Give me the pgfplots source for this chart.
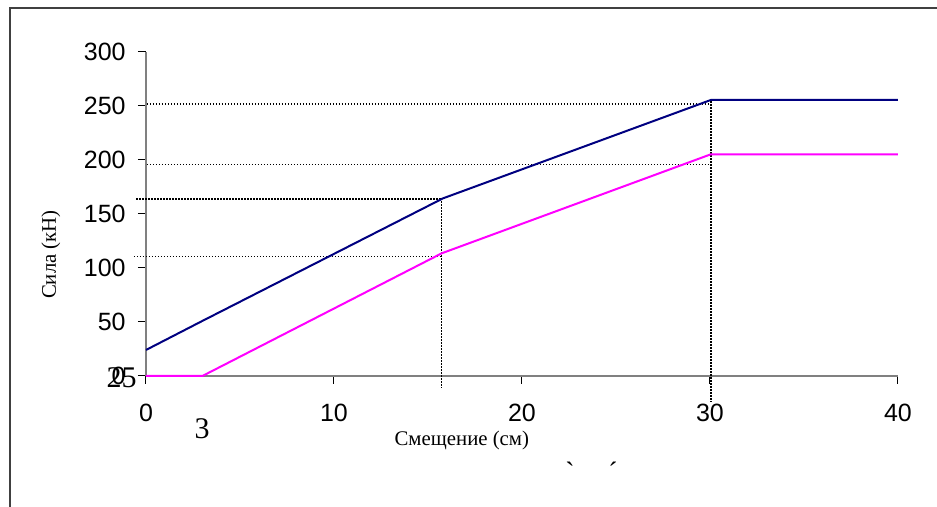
\documentclass[border=0pt]{standalone}
\usepackage{pgfplots}
\pgfplotsset{compat=1.18}
\usepackage{fontspec}
\setmainfont{Liberation Serif}
\newfontfamily\arial{Liberation Sans}
\definecolor{navyline}{HTML}{000080}
\definecolor{magline}{HTML}{FF00FF}
\definecolor{framegray}{HTML}{404040}
\definecolor{axgray}{HTML}{808080}
\begin{document}
\begin{tikzpicture}
\useasboundingbox (-73pt,-65.5pt) rectangle (395.5pt,188pt);
\begin{axis}[
  at={(0,0)}, anchor=south west,
  scale only axis, width=376pt, height=162pt,
  xmin=0, xmax=40, ymin=0, ymax=300,
  axis lines=left,
  axis line style={-, draw=axgray, line width=0.75pt},
  xtick={0,10,20,30,40}, ytick={0,50,100,150,200,250,300},
  tick align=outside, major tick length=4pt,
  tick style={black, line width=0.5pt},
  /pgf/number format/assume math mode=true,
  ticklabel style={font=\arial\fontsize{12.5}{14}\selectfont},
  xticklabel style={anchor=base, inner sep=0pt, yshift=-19pt},
  yticklabel style={anchor=east, inner sep=0pt, xshift=-6pt},
  xlabel={Смещение (см)},
  ylabel={Сила (кН)},
  label style={font=\fontsize{10.4}{12}\selectfont},
  xlabel style={at={(axis description cs:0.42,-0.213)}, anchor=base, inner sep=0pt},
  ylabel style={at={(axis description cs:-0.12,0.375)}, anchor=base, inner sep=0pt},
  clip=false,
]
% dotted guide lines
\addplot[black, line width=0.75pt, dash pattern=on 0.75pt off 0.75pt] coordinates {(-0.53,163.9) (15.73,163.9)};
\addplot[black, line width=0.75pt, dash pattern=on 0.75pt off 0.75pt] coordinates {(-0.64,110.5) (15.73,110.5)};
\addplot[black, line width=0.75pt, dash pattern=on 0.75pt off 0.75pt] coordinates {(15.73,164.8) (15.73,-11.1)};
\addplot[black, line width=0.75pt, dash pattern=on 0.75pt off 0.75pt] coordinates {(0.05,251.9) (30.05,251.9)};
\addplot[black, line width=0.75pt, dash pattern=on 0.75pt off 0.75pt] coordinates {(0.05,196.0) (30.1,196.0)};
\addplot[black, line width=0.75pt, dash pattern=on 0.75pt off 0.75pt] coordinates {(30.05,254.6) (30.05,-24)};
% data
\addplot[navyline, line width=1pt] coordinates {(0,24.1) (3,51) (15.8,164.5) (30.05,255.6) (40,255.6)};
\addplot[magline, line width=1pt] coordinates {(0,0) (3,0) (15.73,113.6) (30.05,205.3) (40,205.3)};
% stray labels
\node[anchor=east, inner sep=0pt, font=\fontsize{15}{16}\selectfont] at (axis cs:-0.48,-1.2) {25};
\node[anchor=base, inner sep=0pt, font=\fontsize{15}{16}\selectfont] at (axis cs:2.98,-58.3) {3};
\node[anchor=center, inner sep=0pt, font=\fontsize{14}{16}\selectfont] at (axis cs:22.55,-88.9) {ˋ};
\node[anchor=center, inner sep=0pt, font=\fontsize{14}{16}\selectfont] at (axis cs:24.84,-88.9) {ˊ};
\end{axis}
\draw[framegray, line width=1.25pt] (-68pt,184pt) rectangle (400pt,-70pt);
\end{tikzpicture}
\end{document}
